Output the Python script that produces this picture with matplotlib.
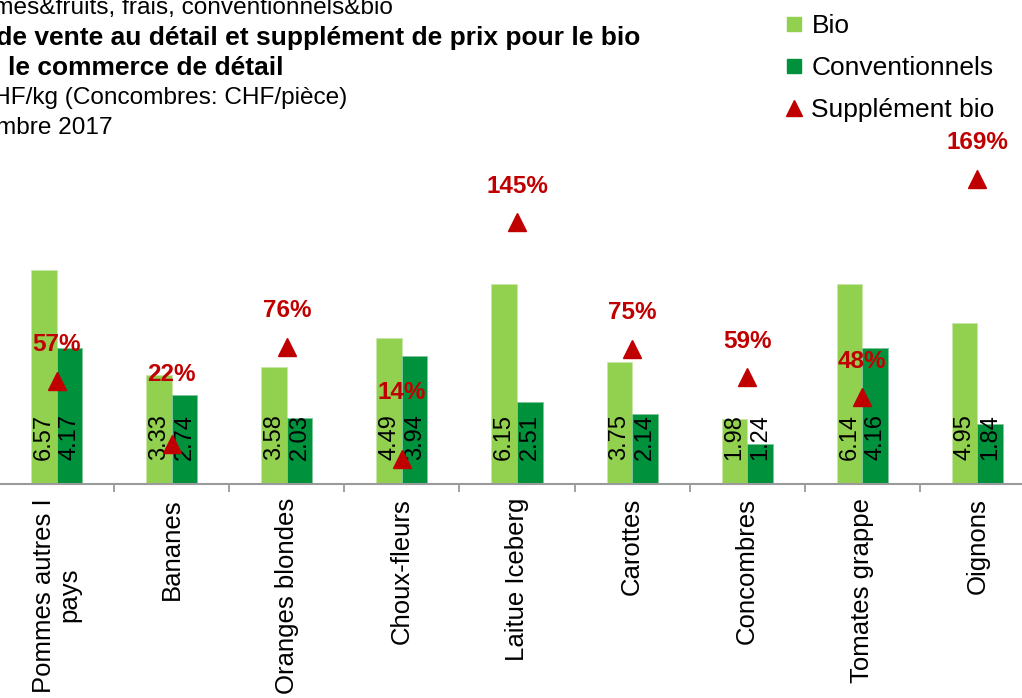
import matplotlib
matplotlib.use("Agg")
import matplotlib.pyplot as plt
from matplotlib.lines import Line2D
import numpy as np

plt.rcParams['font.family'] = ['Liberation Sans', 'DejaVu Sans']

# data
categories = ["Pommes autres I\npays", "Bananes", "Oranges blondes", "Choux-fleurs",
              "Laitue Iceberg", "Carottes", "Concombres", "Tomates grappe", "Oignons"]
bio = [6.57, 3.33, 3.58, 4.49, 6.15, 3.75, 1.98, 6.14, 4.95]
conventionnels = [4.17, 2.74, 2.03, 3.94, 2.51, 2.14, 1.24, 4.16, 1.84]
supplement = [57, 22, 76, 14, 145, 75, 59, 48, 169]

title_lines = [
    ("Légumes&fruits, frais, conventionnels&bio", "normal"),
    ("Prix de vente au détail et supplément de prix pour le bio", "bold"),
    ("dans le commerce de détail", "bold"),
    ("En CHF/kg (Concombres: CHF/pièce)", "normal"),
    ("Novembre 2017", "normal"),
]

BIO_COLOR = "#92D050"
CONV_COLOR = "#00913C"
RED = "#C00000"

W, H = 1022, 698
fig = plt.figure(figsize=(W / 100, H / 100), dpi=100)

# axes: baseline at y=484px, top at y=150px, spans slightly past the right edge
ax_left, ax_right = -1, 1035
ax_bottom, ax_top = 484, 150
ax = fig.add_axes([ax_left / W, 1 - ax_bottom / H, (ax_right - ax_left) / W, (ax_bottom - ax_top) / H])

x = np.arange(len(categories))
bw = 0.222
ax.bar(x - bw / 2, bio, width=bw, color=BIO_COLOR, edgecolor="#C8E8A8", linewidth=0.6)
ax.bar(x + bw / 2, conventionnels, width=bw, color=CONV_COLOR, edgecolor="#7FC89A", linewidth=0.6)

ax.set_xlim(-0.5, len(categories) - 0.5)
ax.set_ylim(0, 10.25)

# value labels, vertical, near the bottom of each bar
for i in range(len(categories)):
    ax.annotate(f"{bio[i]:.2f}", (x[i] - bw / 2, 0), xytext=(0, 17.5), textcoords="offset points",
                rotation=90, ha="center", va="bottom", fontsize=17, color="black")
    ax.annotate(f"{conventionnels[i]:.2f}", (x[i] + bw / 2, 0), xytext=(0, 17.5), textcoords="offset points",
                rotation=90, ha="center", va="bottom", fontsize=17, color="black")

# axis styling
for s in ["top", "left", "right"]:
    ax.spines[s].set_visible(False)
ax.spines["bottom"].set_color("#9A9A9A")
ax.spines["bottom"].set_linewidth(1.5)
ax.set_yticks([])
ax.set_xticks(x)
ax.set_xticklabels(categories, rotation=90, fontsize=18.5, linespacing=1.1, multialignment="center")
ax.tick_params(axis="x", which="major", length=0, pad=10)
ax.set_xticks(np.arange(0.5, len(categories) - 0.5, 1), minor=True)
ax.tick_params(axis="x", which="minor", length=6, width=1.3, color="#9A9A9A", direction="out")

# secondary axis for the bio supplement
ax2 = ax.twinx()
ax2.set_ylim(0, 185)
ax2.plot(x, supplement, ls="", marker="^", ms=13, color=RED)
# two labels were pushed up by hand in the original
lifted = {1: 50, 3: 47.5}
for i in range(len(categories)):
    ax2.annotate(f"{supplement[i]}%", (x[i], supplement[i]), xytext=(0, lifted.get(i, 26)),
                 textcoords="offset points", ha="center", va="center",
                 fontsize=17.5, fontweight="bold", color=RED)
for s in ax2.spines.values():
    s.set_visible(False)
ax2.set_yticks([])

# title block, left edge sits outside the picture like the original
x0 = -61
y_centers = [8, 38, 68, 98, 128]
for (txt, weight), yc in zip(title_lines, y_centers):
    fs = 19 if weight == "bold" else 17.6
    fig.text(x0 / W, 1 - yc / H, txt, ha="left", va="center", fontsize=fs, fontweight=weight)

# legend
handles = [
    Line2D([], [], ls="", marker="s", ms=10, color=BIO_COLOR, label="Bio"),
    Line2D([], [], ls="", marker="s", ms=10, color=CONV_COLOR, label="Conventionnels"),
    Line2D([], [], ls="", marker="^", ms=12, color=RED, label="Supplément bio"),
]
fig.legend(handles=handles, loc="upper left", bbox_to_anchor=(785 / W, 1 - 14 / H), frameon=False,
           fontsize=19, handlelength=0.7, handletextpad=0.3, labelspacing=0.68,
           borderpad=0, borderaxespad=0)

fig.savefig("out.png", dpi=100)
